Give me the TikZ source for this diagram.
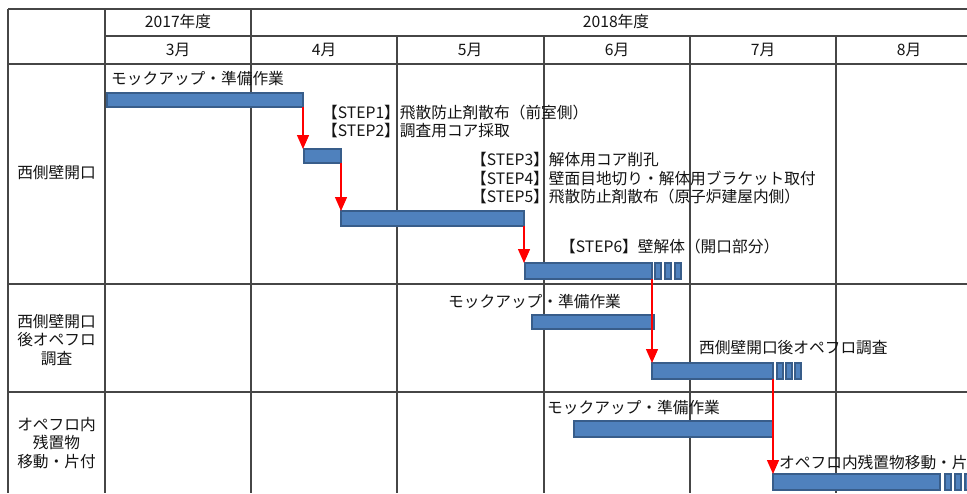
\documentclass[tikz,border=0pt]{standalone}
\usepackage{fontspec}
\setmainfont{Noto Sans CJK JP}
\usetikzlibrary{arrows.meta}
\definecolor{barfill}{RGB}{79,129,189}
\definecolor{barline}{RGB}{56,93,138}
\definecolor{gridc}{RGB}{70,70,70}
\definecolor{txt}{RGB}{20,20,20}
\begin{document}
\begin{tikzpicture}[x=1pt,y=-1pt,
  gridline/.style={draw=gridc,line width=1.1pt},
  bar/.style={draw=barline,fill=barfill,line width=1.2pt,inner sep=0pt,outer sep=0pt,anchor=north west,rectangle},
  lbl/.style={font=\fontsize{15.7}{18}\selectfont,inner sep=0pt,anchor=west,text=txt},
  hdr/.style={font=\fontsize{15.7}{18.5}\selectfont,inner sep=0pt,text=txt,align=center},
  arr/.style={draw=red,line width=1.4pt,-{Triangle[width=12pt,length=14pt]}},
]
\useasboundingbox (0,0) rectangle (967,493);
% grid
\draw[gridline] (8,9) -- (967,9);
\draw[gridline] (105,36) -- (967,36);
\draw[gridline] (8,64) -- (967,64);
\draw[gridline] (8,284) -- (967,284);
\draw[gridline] (8,392) -- (967,392);
\draw[gridline] (8,9) -- (8,493);
\draw[gridline] (105,9) -- (105,493);
\draw[gridline] (251,9) -- (251,493);
\foreach \x in {397,544,690,836} \draw[gridline] (\x,36) -- (\x,493);
% headers
\node[hdr] (h2017) at (178,22) {2017年度};
\node[hdr] (h2018) at (616,22) {2018年度};
\node[hdr] (m3) at (178,50) {3月};
\node[hdr] (m4) at (324,50) {4月};
\node[hdr] (m5) at (470,50) {5月};
\node[hdr] (m6) at (617,50) {6月};
\node[hdr] (m7) at (763,50) {7月};
\node[hdr] (m8) at (909,50) {8月};
\node[hdr] (r1) at (56.5,173) {西側壁開口};
\node[hdr] (r2) at (56.5,340) {西側壁開口\\後オペフロ\\調査};
\node[hdr] (r3) at (56.5,443) {オペフロ内\\残置物\\移動・片付};
% bars
\node[bar,minimum width=196pt,minimum height=14pt] (A) at (107,93) {};
\node[bar,minimum width=37pt,minimum height=14pt] (B) at (304,149) {};
\node[bar,minimum width=183pt,minimum height=15pt] (C) at (341,211) {};
\node[bar,minimum width=127pt,minimum height=16pt] (D) at (525,263) {};
\node[bar,minimum width=6pt,minimum height=16pt] (D1) at (655,263) {};
\node[bar,minimum width=6pt,minimum height=16pt] (D2) at (665,263) {};
\node[bar,minimum width=6pt,minimum height=16pt] (D3) at (675,263) {};
\node[bar,minimum width=122pt,minimum height=14pt] (E) at (532,315) {};
\node[bar,minimum width=121pt,minimum height=16pt] (F) at (652,363) {};
\node[bar,minimum width=6pt,minimum height=16pt] (F1) at (777,363) {};
\node[bar,minimum width=6pt,minimum height=16pt] (F2) at (786,363) {};
\node[bar,minimum width=6pt,minimum height=16pt] (F3) at (795,363) {};
\node[bar,minimum width=199pt,minimum height=16pt] (G) at (574,421) {};
\node[bar,minimum width=167pt,minimum height=16pt] (H) at (773,474) {};
\node[bar,minimum width=6pt,minimum height=16pt] (H1) at (945,474) {};
\node[bar,minimum width=6pt,minimum height=16pt] (H2) at (955,474) {};
\node[bar,minimum width=6pt,minimum height=16pt] (H3) at (965,474) {};
% labels
\node[lbl] (tA) at (111,78) {モックアップ・準備作業};
\node[lbl] (t1) at (322,113) {【STEP1】飛散防止剤散布（前室側）};
\node[lbl] (t2) at (322,131) {【STEP2】調査用コア採取};
\node[lbl] (t3) at (471,160) {【STEP3】解体用コア削孔};
\node[lbl] (t4) at (471,178) {【STEP4】壁面目地切り・解体用ブラケット取付};
\node[lbl] (t5) at (471,197) {【STEP5】飛散防止剤散布（原子炉建屋内側）};
\node[lbl] (t6) at (560,247) {【STEP6】壁解体（開口部分）};
\node[lbl] (tE) at (448,301) {モックアップ・準備作業};
\node[lbl] (tF) at (699,348) {西側壁開口後オペフロ調査};
\node[lbl] (tG) at (547,407) {モックアップ・準備作業};
\node[lbl] (tH) at (779,462) {オペフロ内残置物移動・片付};
% arrows
\draw[arr] (A.south east) -- (A.south east |- B.north);
\draw[arr] (B.south east) -- (B.south east |- C.north);
\draw[arr] (C.south east) -- (C.south east |- D.north);
\draw[arr] (D.south east) -- (D.south east |- F.north);
\draw[arr] (F.south east) -- (F.south east |- H.north);
\end{tikzpicture}
\end{document}
